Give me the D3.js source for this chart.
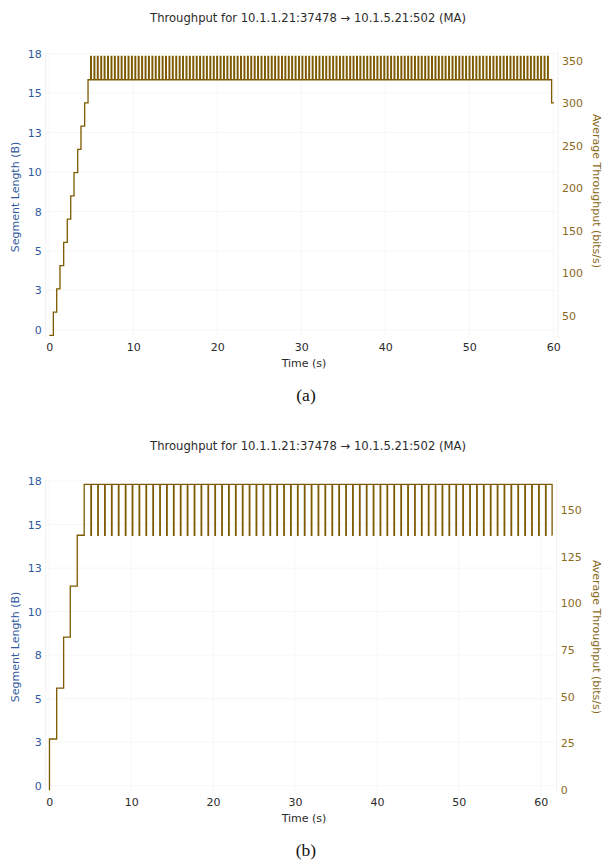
<!DOCTYPE html>
<html>
<head>
<meta charset="utf-8">
<script src="https://cdn.jsdelivr.net/npm/d3@7"></script>
<style>
  body { margin: 0; background: #fff; }
  text { font-family: "DejaVu Sans", sans-serif; }
</style>
</head>
<body>
<div id="chart"></div>
<script>
// chart data
const chartTitle = "Throughput for 10.1.1.21:37478 \u2192 10.1.5.21:502 (MA)";
const xTicks = [0, 10, 20, 30, 40, 50, 60];
const leftTickValues = [0, 2.5, 5, 7.5, 10, 12.5, 15, 17.5];
const leftTickLabels = ["0", "3", "5", "8", "10", "13", "15", "18"];
const rightTicksA = [50, 100, 150, 200, 250, 300, 350];
const rightTicksB = [0, 25, 50, 75, 100, 125, 150];

// (a) ramp up, then short spikes above the plateau, then last drop
const rampTimesA = [0, 0.48, 0.88, 1.27, 1.71, 2.14, 2.55, 2.94, 3.38, 3.77, 4.21, 4.61];
const rampLevelsA = [27.3, 54.6, 81.9, 109.2, 136.5, 163.8, 191.1, 218.4, 245.7, 273.0, 300.3, 327.6];
const spikeTimesA = [4.92, 5.33, 5.73, 6.14, 6.54, 6.95, 7.36, 7.76, 8.17, 8.57,
  8.98, 9.39, 9.79, 10.20, 10.60, 11.01, 11.42, 11.82, 12.23, 12.63,
  13.04, 13.45, 13.85, 14.26, 14.66, 15.07, 15.48, 15.88, 16.29, 16.69,
  17.10, 17.51, 17.91, 18.32, 18.72, 19.13, 19.54, 19.94, 20.35, 20.75,
  21.16, 21.57, 21.97, 22.38, 22.78, 23.19, 23.60, 24.00, 24.41, 24.81,
  25.22, 25.63, 26.03, 26.44, 26.84, 27.25, 27.66, 28.06, 28.47, 28.87,
  29.28, 29.69, 30.09, 30.50, 30.90, 31.31, 31.72, 32.12, 32.53, 32.93,
  33.34, 33.75, 34.15, 34.56, 34.96, 35.37, 35.78, 36.18, 36.59, 36.99,
  37.40, 37.81, 38.21, 38.62, 39.02, 39.43, 39.84, 40.24, 40.65, 41.05,
  41.46, 41.87, 42.27, 42.68, 43.08, 43.49, 43.90, 44.30, 44.71, 45.11,
  45.52, 45.93, 46.33, 46.74, 47.14, 47.55, 47.96, 48.36, 48.77, 49.17,
  49.58, 49.99, 50.39, 50.80, 51.20, 51.61, 52.02, 52.42, 52.83, 53.23,
  53.64, 54.05, 54.45, 54.86, 55.26, 55.67, 56.08, 56.48, 56.89, 57.29,
  57.70, 58.11, 58.51, 58.92, 59.32];
const spikeLevelsA = [354.9, 327.6]; // spike top, plateau
const spikeWidthA = 0.08;
const endTimesA = [59.80, 60.08];
const endLevelsA = [300.3, 300.3];

// (b) ramp up, then short dips below the plateau
const rampTimesB = [0, 0.02, 0.90, 1.75, 2.56, 3.41, 4.26];
const rampLevelsB = [0, 27.3, 54.6, 81.9, 109.2, 136.5, 163.8];
const dipTimesB = [5.08, 5.92, 6.76, 7.60, 8.44, 9.29, 10.13, 10.97, 11.81, 12.65,
  13.49, 14.33, 15.17, 16.01, 16.85, 17.70, 18.54, 19.38, 20.22, 21.06,
  21.90, 22.74, 23.58, 24.42, 25.26, 26.11, 26.95, 27.79, 28.63, 29.47,
  30.31, 31.15, 31.99, 32.83, 33.67, 34.52, 35.36, 36.20, 37.04, 37.88,
  38.72, 39.56, 40.40, 41.24, 42.08, 42.93, 43.77, 44.61, 45.45, 46.29,
  47.13, 47.97, 48.81, 49.65, 50.49, 51.34, 52.18, 53.02, 53.86, 54.70,
  55.54, 56.38, 57.22, 58.06, 58.90, 59.75, 60.59];
const dipLevelsB = [136.5, 163.8]; // dip bottom, plateau
const dipWidthB = 0.06;
const endTimesB = [61.39, 61.41];
const endLevelsB = [136.5, 136.5];

const lineColor = "#7d5a00";
const leftColor = "#2f5a9e";
const rightColor = "#8a6a1c";
const textColor = "#2b2b2b";
const gridColor = "#f7f7f7";

const buildSeries = (rampT, rampV, eventT, eventV, eventW, endT, endV) => {
  const pts = rampT.map((t, i) => ({t: t, v: rampV[i]}));
  eventT.forEach(t => {
    pts.push({t: t, v: eventV[0]});
    pts.push({t: t + eventW, v: eventV[1]});
  });
  endT.forEach((t, i) => pts.push({t: t, v: endV[i]}));
  return pts;
};

const svg = d3.select("#chart").append("svg")
  .attr("width", 603)
  .attr("height", 861);

const drawPanel = (cfg) => {
  const x = d3.scaleLinear().domain(cfg.xDomain).range([cfg.left, cfg.right]);
  const yL = d3.scaleLinear().domain(cfg.leftDomain).range([cfg.bottom, cfg.top]);
  const yR = d3.scaleLinear().domain(cfg.rightDomain).range([cfg.bottom, cfg.top]);
  const g = svg.append("g");

  // faint grid
  g.append("g").selectAll("line").data(xTicks).enter().append("line")
    .attr("x1", d => x(d)).attr("x2", d => x(d))
    .attr("y1", cfg.top).attr("y2", cfg.bottom)
    .attr("stroke", gridColor);
  g.append("g").selectAll("line").data(leftTickValues).enter().append("line")
    .attr("x1", cfg.left).attr("x2", cfg.right)
    .attr("y1", d => yL(d)).attr("y2", d => yL(d))
    .attr("stroke", gridColor);
  [cfg.left, cfg.right].forEach(px => {
    g.append("line").attr("x1", px).attr("x2", px)
      .attr("y1", cfg.top).attr("y2", cfg.bottom)
      .attr("stroke", "#f0f0f0");
  });

  // axes
  const ax = g.append("g").attr("transform", `translate(0,${cfg.bottom})`)
    .call(d3.axisBottom(x).tickValues(xTicks).tickSize(0).tickPadding(5));
  const al = g.append("g").attr("transform", `translate(${cfg.left},0)`)
    .call(d3.axisLeft(yL).tickValues(leftTickValues).tickSize(0).tickPadding(4)
      .tickFormat((d, i) => leftTickLabels[i]));
  const ar = g.append("g").attr("transform", `translate(${cfg.right},0)`)
    .call(d3.axisRight(yR).tickValues(cfg.rightTicks).tickSize(0).tickPadding(4));
  [ax, al, ar].forEach(a => {
    a.select(".domain").remove();
    a.selectAll("text").attr("font-family", "DejaVu Sans").attr("font-size", 11);
  });
  ax.selectAll("text").attr("fill", textColor);
  al.selectAll("text").attr("fill", leftColor);
  ar.selectAll("text").attr("fill", rightColor);

  // series
  const line = d3.line()
    .x(d => x(d.t))
    .y(d => yR(d.v))
    .curve(d3.curveStepAfter);
  g.append("path")
    .datum(cfg.series)
    .attr("fill", "none")
    .attr("stroke", lineColor)
    .attr("stroke-width", 1.3)
    .attr("d", line);

  // texts
  g.append("text")
    .attr("x", 308).attr("y", cfg.top - 30)
    .attr("text-anchor", "middle")
    .attr("font-size", 11.6)
    .attr("fill", textColor)
    .text(chartTitle);
  g.append("text")
    .attr("x", 304).attr("y", cfg.bottom + 29)
    .attr("text-anchor", "middle")
    .attr("font-size", 11)
    .attr("fill", textColor)
    .text("Time (s)");
  g.append("text")
    .attr("transform", `translate(19,${cfg.leftTitleY}) rotate(-90)`)
    .attr("text-anchor", "middle")
    .attr("font-size", 11)
    .attr("fill", leftColor)
    .text("Segment Length (B)");
  g.append("text")
    .attr("transform", `translate(593,${cfg.rightTitleY}) rotate(90)`)
    .attr("text-anchor", "middle")
    .attr("font-size", 11)
    .attr("fill", rightColor)
    .text("Average Throughput (bits/s)");
  g.append("text")
    .attr("x", 306).attr("y", cfg.captionY)
    .attr("text-anchor", "middle")
    .style("font-family", "'Liberation Serif', serif")
    .attr("font-size", 17.5)
    .attr("fill", "#111")
    .text(cfg.caption);
};

drawPanel({
  left: 45.7, right: 558, top: 52, bottom: 338,
  xDomain: [-0.43, 60.56], leftDomain: [-0.51, 17.6], rightDomain: [24.1, 360.2],
  rightTicks: rightTicksA,
  series: buildSeries(rampTimesA, rampLevelsA, spikeTimesA, spikeLevelsA, spikeWidthA, endTimesA, endLevelsA),
  leftTitleY: 197, rightTitleY: 191, captionY: 401, caption: "(a)"
});

drawPanel({
  left: 45.7, right: 556.7, top: 480, bottom: 793.3,
  xDomain: [-0.44, 61.95], leftDomain: [-0.44, 17.56], rightDomain: [-1.8, 166.1],
  rightTicks: rightTicksB,
  series: buildSeries(rampTimesB, rampLevelsB, dipTimesB, dipLevelsB, dipWidthB, endTimesB, endLevelsB),
  leftTitleY: 647, rightTitleY: 637, captionY: 856, caption: "(b)"
});
</script>
</body>
</html>
